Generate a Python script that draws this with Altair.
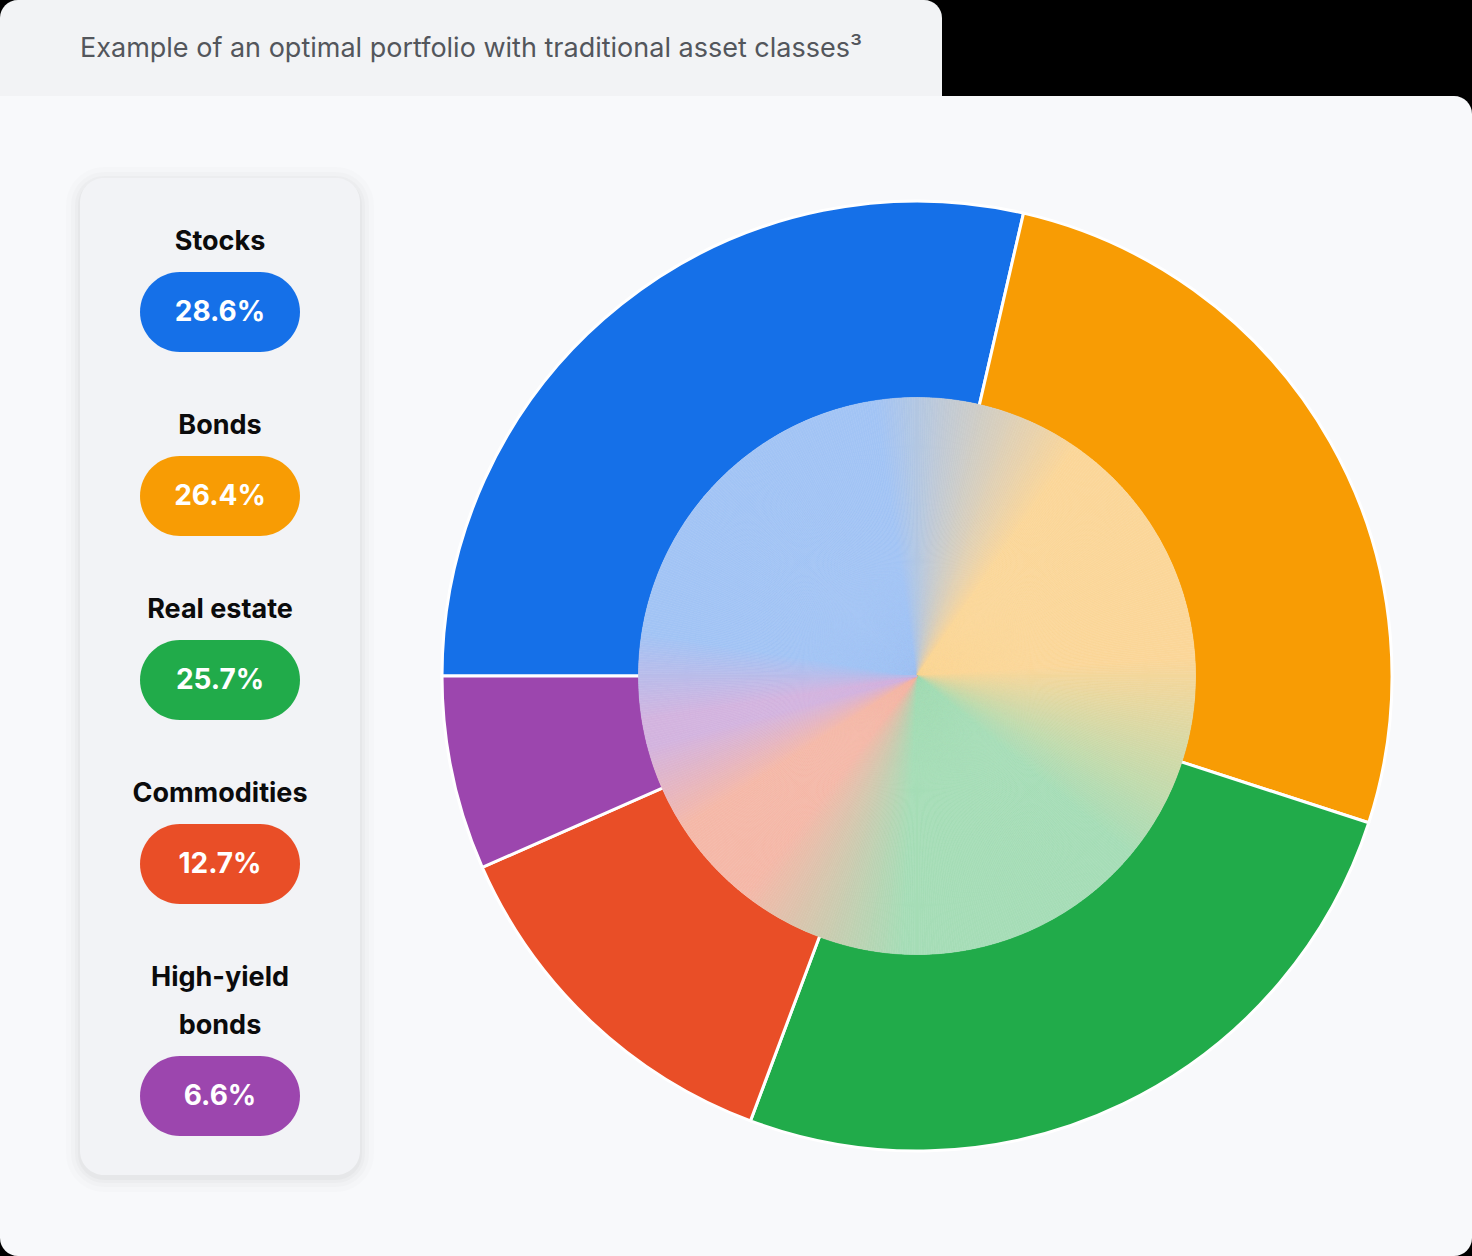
import altair as alt
import pandas as pd

# ---------------- data ----------------
title_text = "Example of an optimal portfolio with traditional asset classes³"
categories = ["Stocks", "Bonds", "Real estate", "Commodities", "High-yield bonds"]
legend_labels = ["Stocks", "Bonds", "Real estate", "Commodities", "High-yield\nbonds"]
values = [28.6, 26.4, 25.7, 12.7, 6.6]
colors = ["#1570e8", "#f89c04", "#21ab4a", "#e94e27", "#9c46ae"]
pale_colors = ["#a2c4f5", "#fbd699", "#a6ddb7", "#f5b8a8", "#d3b4df"]

# ---------------- derived tables ----------------
W, H = 1472, 1256
CX, CY = 917, 676
R_OUT, R_IN = 475, 277

# legend slots: each extra label line pushes the following rows down
line_frac = 48 / 184
slots, label_slots, extra = [], [], 0
for i, lab in enumerate(legend_labels):
    n_extra = lab.count("\n")
    extra += n_extra
    slots.append(i + extra * line_frac)
    label_slots.append(i + extra * line_frac - n_extra * line_frac)

df = pd.DataFrame({
    "category": categories,
    "label": legend_labels,
    "value": values,
    "order": list(range(len(categories))),
    "slot": slots,
    "label_slot": label_slots,
})

theta_scale = alt.Scale(domain=[0, 100], range=[4.71238898, 4.71238898 + 6.28318531])
fill_scale = alt.Scale(domain=categories, range=colors)
y_scale = alt.Scale(domain=[0, slots[-1]], range=[312, 1096], nice=False, zero=False)


def hexmix(a, b):
    a = [int(a[i:i + 2], 16) for i in (1, 3, 5)]
    b = [int(b[i:i + 2], 16) for i in (1, 3, 5)]
    return "#" + "".join(f"{(x + y) // 2:02x}" for x, y in zip(a, b))


# colour stops of the soft inner disc (plateau per slice, blended at borders)
bounds = [0]
for v in values:
    bounds.append(round(bounds[-1] + v, 4))
widths = values
nb = len(values)
blur = []
for j in range(nb):
    blur.append(min(6.0, widths[j - 1] / 2.6, widths[j] / 2.6))
wrap_col = hexmix(pale_colors[-1], pale_colors[0])
stops, stop_cols = [0], [wrap_col]
for k in range(nb):
    s = bounds[k] + blur[k]
    e = bounds[k + 1] - (blur[k + 1] if k + 1 < nb else blur[0])
    stops += [s, e]
    stop_cols += [pale_colors[k], pale_colors[k]]
stops.append(100)
stop_cols.append(wrap_col)

one = alt.Data(values=[{}])

# ---------------- background ----------------
tab = alt.Chart(one).mark_rect(
    color="#f2f3f5", cornerRadiusTopLeft=18, cornerRadiusTopRight=18
).encode(x=alt.value(0), x2=alt.value(942), y=alt.value(0), y2=alt.value(140))

panel = alt.Chart(one).mark_rect(
    color="#f8f9fb", cornerRadiusTopRight=18, cornerRadiusBottomLeft=18,
    cornerRadiusBottomRight=18
).encode(x=alt.value(0), x2=alt.value(W), y=alt.value(96), y2=alt.value(H))

title = alt.Chart(one).mark_text(
    align="left", baseline="middle", font="Inter", fontSize=27, color="#53565c"
).encode(x=alt.value(80), y=alt.value(49), text=alt.value(title_text))

shadows = []
for grow, op in [(14, 0.010), (9, 0.014), (5, 0.018), (2, 0.022)]:
    shadows.append(
        alt.Chart(one).mark_rect(color="#000000", opacity=op, cornerRadius=24 + grow).encode(
            x=alt.value(80 - grow), x2=alt.value(360 + grow),
            y=alt.value(178 - grow + 3), y2=alt.value(1175 + grow + 3))
    )

card = alt.Chart(one).mark_rect(color="#f2f3f6", cornerRadius=24).encode(
    x=alt.value(80), x2=alt.value(360), y=alt.value(178), y2=alt.value(1175))

# ---------------- legend ----------------
base = alt.Chart(df)

labels = base.mark_text(
    align="center", baseline="bottom", font="Inter", fontSize=27, fontWeight="bold",
    color="#0b0b0c", lineBreak="\n", lineHeight=48, dy=-56
).encode(
    x=alt.value(220),
    y=alt.Y("label_slot:Q", scale=y_scale, axis=None),
    text="label:N",
)

pills = base.mark_rect(width=160, height=80, cornerRadius=40).encode(
    x=alt.value(220),
    y=alt.Y("slot:Q", scale=y_scale, axis=None),
    fill=alt.Fill("category:N", scale=fill_scale, legend=None),
)

pill_text = base.transform_calculate(pct="datum.value / 100").mark_text(
    align="center", baseline="middle", font="Inter", fontSize=28, fontWeight="bold",
    color="#ffffff", dy=1
).encode(
    x=alt.value(220),
    y=alt.Y("slot:Q", scale=y_scale, axis=None),
    text=alt.Text("pct:Q", format=".1%"),
)

# ---------------- donut ----------------
outer = base.mark_arc(
    outerRadius=R_OUT, innerRadius=R_IN, stroke="#ffffff", strokeWidth=3
).encode(
    x=alt.value(CX), y=alt.value(CY),
    theta=alt.Theta("value:Q", stack=True, scale=theta_scale),
    fill=alt.Fill("category:N", scale=fill_scale, legend=None),
    order=alt.Order("order:Q"),
)

grad_scale = alt.Scale(domain=stops, range=stop_cols, interpolate="rgb")
inner = alt.Chart(alt.sequence(0, 720, as_="i")).transform_calculate(
    a="(datum.i + 0.5) / 7.2", w="100 / 720"
).mark_arc(outerRadius=R_IN + 1.5, innerRadius=0, strokeWidth=0.6).encode(
    x=alt.value(CX), y=alt.value(CY),
    theta=alt.Theta("w:Q", stack=True, scale=theta_scale),
    color=alt.Color("a:Q", scale=grad_scale, legend=None),
    stroke=alt.Stroke("a:Q", scale=grad_scale, legend=None),
    order=alt.Order("i:Q"),
)

chart = alt.layer(
    tab, panel, title, *shadows, card, labels, pills, pill_text, outer, inner
).resolve_scale(
    color="independent", stroke="independent"
).properties(
    width=W, height=H, padding=0, autosize=alt.AutoSizeParams(type="none"),
    background="#000000"
).configure_view(stroke=None)

chart.save("out.html", embed_options={"renderer": "svg", "actions": False})
